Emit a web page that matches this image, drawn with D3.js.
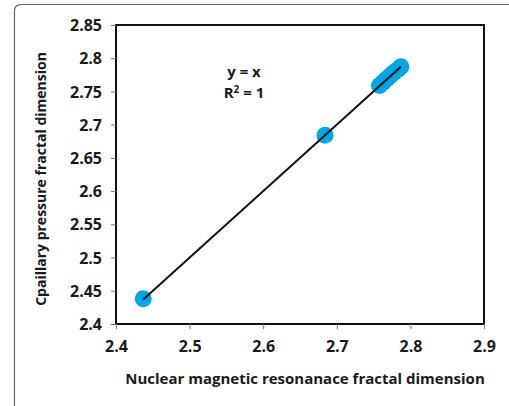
<!DOCTYPE html>
<html lang="en">
<head>
<meta charset="UTF-8">
<title>NMR vs capillary pressure fractal dimension</title>
<script src="https://d3js.org/d3.v7.min.js"></script>
<style>
  body { margin: 0; background: #fff; }
  text { font-family: "Open Sans", Lato, sans-serif; font-weight: bold; fill: #1a1a1a; }
</style>
</head>
<body>
<svg width="509" height="406" class="chart"></svg>
<script>
// data
var nmrDim = [2.437, 2.684, 2.758, 2.763, 2.768, 2.773, 2.778, 2.783, 2.787];
var pcDim  = [2.438, 2.684, 2.759, 2.764, 2.769, 2.774, 2.779, 2.783, 2.787];
var xTicks = [2.4, 2.5, 2.6, 2.7, 2.8, 2.9];
var yTicks = [2.4, 2.45, 2.5, 2.55, 2.6, 2.65, 2.7, 2.75, 2.8, 2.85];
var fitLine = [2.437, 2.787]; // y = x

var svg = d3.select('.chart');

// outer frame of the figure
svg.append('rect')
  .attr('x', 14.5).attr('y', 4.5)
  .attr('width', 520).attr('height', 420)
  .attr('rx', 6)
  .attr('fill', 'none')
  .attr('stroke', '#666')
  .attr('stroke-width', 1.2);

var plotL = 116, plotR = 484, plotT = 25, plotB = 324;

var x = d3.scaleLinear().domain([2.4, 2.9]).range([plotL, plotR]);
var y = d3.scaleLinear().domain([2.4, 2.85]).range([plotB, plotT]);

// plot box
svg.append('rect')
  .attr('x', plotL).attr('y', plotT)
  .attr('width', plotR - plotL).attr('height', plotB - plotT)
  .attr('fill', 'none')
  .attr('stroke', '#111')
  .attr('stroke-width', 2);

var xAxis = d3.axisBottom(x).tickValues(xTicks).tickSize(5).tickSizeOuter(0)
  .tickFormat(d3.format('.1f'));
var yAxis = d3.axisLeft(y).tickValues(yTicks).tickSize(5).tickSizeOuter(0)
  .tickFormat(function (d) { return String(+d.toFixed(2)); });

var gx = svg.append('g').attr('transform', 'translate(0,' + plotB + ')').call(xAxis);
var gy = svg.append('g').attr('transform', 'translate(' + plotL + ',0)').call(yAxis);

[gx, gy].forEach(function (g) {
  g.select('.domain').remove();
  g.selectAll('line').attr('stroke', '#777');
  g.selectAll('text').attr('font-size', 16).attr('fill', '#1a1a1a')
    .attr('font-family', '"Open Sans", sans-serif');
});
gx.selectAll('text').attr('dy', '1.25em');
gy.selectAll('text').attr('x', -14).attr('dy', '0.35em');

// points
svg.append('g').selectAll('circle')
  .data(nmrDim)
  .enter()
  .append('circle')
  .attr('cx', function (d) { return x(d); })
  .attr('cy', function (d, i) { return y(pcDim[i]); })
  .attr('r', 8.5)
  .attr('fill', '#00A6E6');

// fitted line y = x
svg.append('line')
  .attr('x1', x(fitLine[0])).attr('y1', y(fitLine[0]))
  .attr('x2', x(fitLine[1])).attr('y2', y(fitLine[1]))
  .attr('stroke', '#111')
  .attr('stroke-width', 2);

// equation
svg.append('text').attr('x', 244).attr('y', 77)
  .attr('text-anchor', 'middle').attr('font-size', 15).text('y = x');
var r2 = svg.append('text').attr('x', 244).attr('y', 98)
  .attr('text-anchor', 'middle').attr('font-size', 15);
r2.append('tspan').text('R');
r2.append('tspan').attr('dy', -5).attr('font-size', 10).text('2');
r2.append('tspan').attr('dy', 5).text(' = 1');

// axis titles
svg.append('text')
  .attr('x', 305).attr('y', 384)
  .attr('text-anchor', 'middle')
  .attr('font-size', 15)
  .text('Nuclear magnetic resonanace fractal dimension');

svg.append('text')
  .attr('transform', 'translate(46,179) rotate(-90)')
  .attr('text-anchor', 'middle')
  .attr('font-size', 14)
  .text('Cpaillary pressure fractal dimension');
</script>
</body>
</html>
